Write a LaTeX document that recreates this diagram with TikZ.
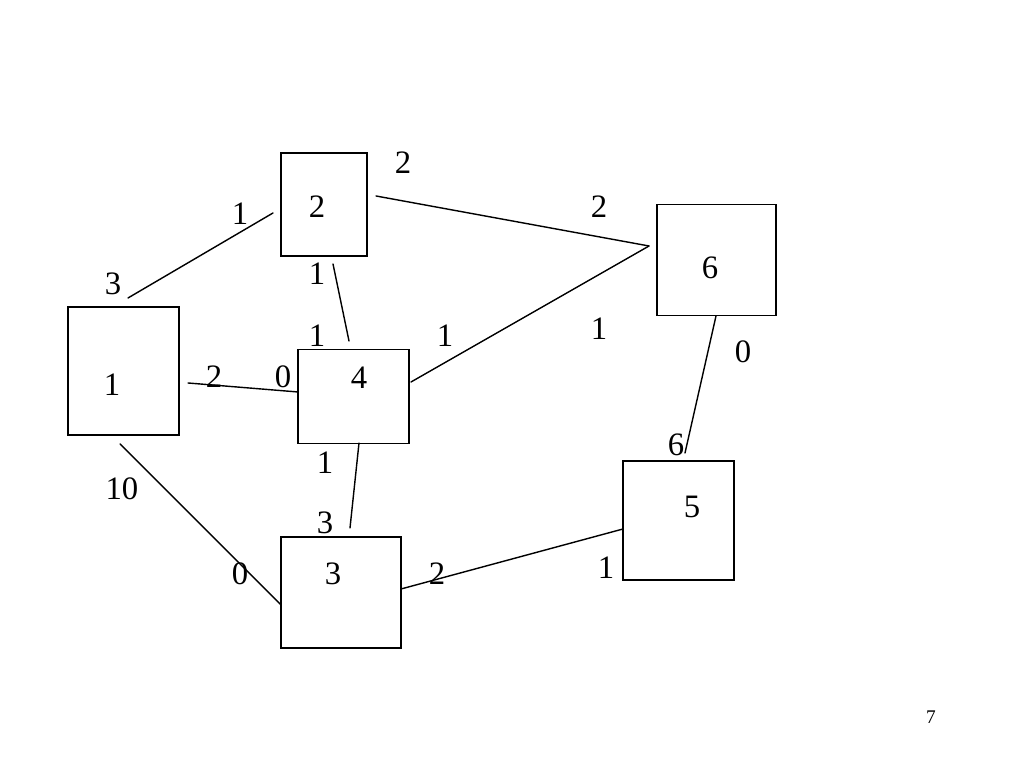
\documentclass[tikz,border=0pt]{standalone}
\usepackage{fontspec}
\setmainfont{Liberation Serif}
\usepackage{tkz-euclide}
\tikzset{box/.style = {draw, rectangle, line width=0.4pt, inner sep=0pt},
         num/.style = {font=\fontsize{9.3}{11}\selectfont, inner sep=0pt}}

\begin{document}
\begin{tikzpicture}[x=0.01cm, y=-0.01cm]
\useasboundingbox (0,0) rectangle (1024,768);
\node[box, minimum width=1.11cm, minimum height=1.28cm] (B1) at (123.5,371) {};
\node[box, minimum width=0.86cm, minimum height=1.03cm] (B2) at (324,204.5) {};
\node[box, minimum width=1.20cm, minimum height=1.11cm] (B3) at (341,592.5) {};
\node[box, minimum width=1.11cm, minimum height=0.94cm] (B4) at (353.5,396.5) {};
\node[box, minimum width=1.11cm, minimum height=1.19cm] (B5) at (678.5,520.5) {};
\node[box, minimum width=1.19cm, minimum height=1.11cm] (B6) at (716.5,260) {};
\tkzDefPoints{128/298/A, 273/213/B, 188/383/C, 298/392/D, 120/444/E, 281/605/F,
  333/264/G, 349/341/H, 376/196/I, 649/246/J, 411/382/K, 359/443/L,
  350/528/M, 401/589/N, 623/529/O, 716/316/P, 685/453/Q}
\tkzDrawSegments[line width=0.4pt](A,B C,D E,F G,H I,J K,J L,M N,O P,Q)
\node[num] (n1) at (112,385) {1};
\node[num] (n2) at (317,207) {2};
\node[num] (n3) at (333,574) {3};
\node[num] (n4) at (359,378) {4};
\node[num] (n5) at (692,507) {5};
\node[num] (n6) at (710,268) {6};
\node[num] (w12) at (113,284) {3};
\node[num] (w21) at (240,214) {1};
\node[num] (w14) at (214,377) {2};
\node[num] (w41) at (283,377) {0};
\node[num] (w13) at (122,489) {10};
\node[num] (w31) at (240,574) {0};
\node[num] (w24) at (317,274) {1};
\node[num] (w42) at (317,336) {1};
\node[num] (w26) at (403,163) {2};
\node[num] (w62) at (599,207) {2};
\node[num] (w46) at (445,336) {1};
\node[num] (w64) at (599,329) {1};
\node[num] (w43) at (325,463) {1};
\node[num] (w34) at (325,523) {3};
\node[num] (w35) at (437,574) {2};
\node[num] (w53) at (606,568) {1};
\node[num] (w65) at (743,352) {0};
\node[num] (w56) at (676,445) {6};
\node[font=\fontsize{5.5}{7}\selectfont, inner sep=0pt] (pg) at (931,717) {7};
\end{tikzpicture}
\end{document}
